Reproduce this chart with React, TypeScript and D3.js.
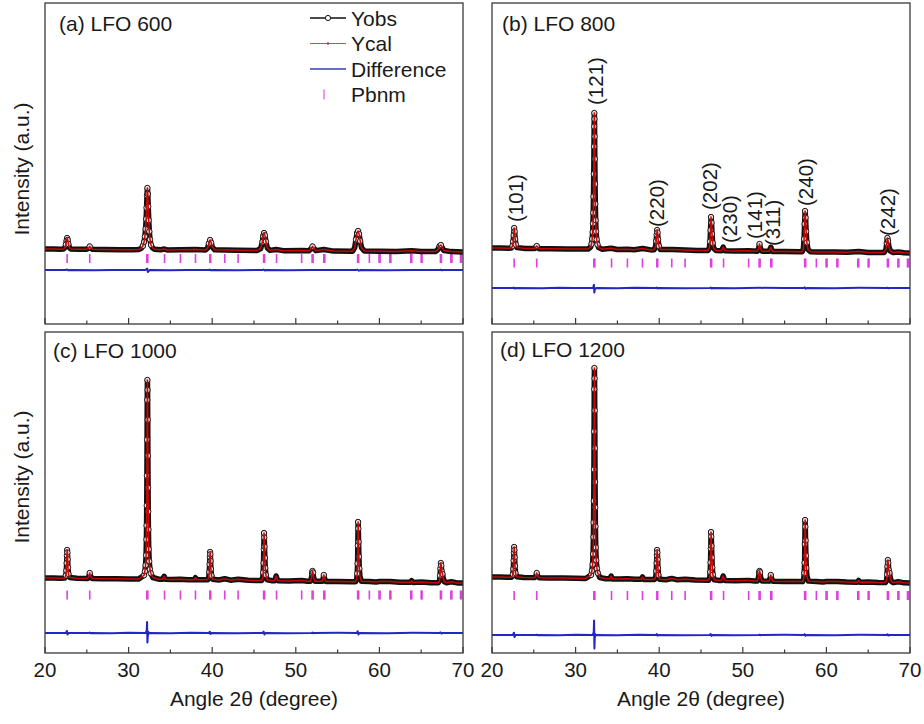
import React from "react";
import * as d3 from "d3";

type Pt = [number, number];

const angleDomain: [number, number] = [20, 70];
const countDomain: [number, number] = [-2600, 10240];
const majorTicks = [20, 30, 40, 50, 60, 70];
const minorTicks = [25, 35, 45, 55, 65];

// Pbnm reflection positions (close pairs show as thicker ticks)
const pbnmTicks = [
  22.65, 25.35, 32.18, 32.3, 34.3, 36.2, 38.0, 39.72, 39.82, 41.5, 43.1, 46.15,
  46.27, 47.7, 50.7, 51.95, 52.07, 53.35, 53.47, 57.4, 57.52, 58.8, 59.96, 60.08,
  61.25, 61.37, 63.75, 63.87, 65.0, 65.1, 67.3, 67.42, 68.55, 68.67, 69.7, 69.82,
];

// observed patterns [2theta, counts]
const obs600: Pt[] = [
  [20, 400], [21, 396], [21.8, 393], [22.2, 400], [22.4, 470], [22.5, 580], [22.58, 740],
  [22.65, 840], [22.72, 760], [22.8, 600], [22.92, 460], [23.1, 398], [24, 390], [25.0, 392],
  [25.2, 430], [25.35, 500], [25.5, 430], [25.7, 386], [27, 382], [29, 374], [30.5, 368],
  [31.2, 378], [31.5, 420], [31.7, 520], [31.85, 680], [31.95, 900], [32.03, 1200], [32.1, 1600],
  [32.15, 2050], [32.2, 2550], [32.25, 2840], [32.3, 2600], [32.35, 2100], [32.41, 1550],
  [32.48, 1100], [32.56, 780], [32.68, 560], [32.85, 450], [33.1, 390], [33.8, 366], [34.25, 400],
  [34.6, 362], [36.2, 372], [38.0, 378], [39.2, 360], [39.45, 440], [39.6, 620], [39.75, 760],
  [39.88, 650], [40.0, 480], [40.3, 368], [41.5, 360], [43.1, 352], [45.4, 342], [45.8, 420],
  [46.0, 680], [46.1, 920], [46.2, 1040], [46.3, 950], [46.42, 700], [46.6, 440], [46.9, 345],
  [47.65, 378], [48.5, 334], [50.7, 338], [51.6, 332], [51.85, 420], [52.0, 500], [52.15, 430],
  [52.4, 335], [53.35, 380], [54.5, 316], [56.8, 315], [57.05, 460], [57.2, 780], [57.33, 1040],
  [57.45, 1120], [57.57, 1000], [57.7, 720], [57.87, 450], [58.2, 318], [60, 312], [62, 302],
  [63.85, 328], [65, 296], [66.7, 298], [67.0, 380], [67.2, 520], [67.35, 560], [67.5, 470],
  [67.7, 340], [68.6, 296], [70, 280],
];

const diff600: Pt[] = [
  [20, -440], [22.5, -440], [22.65, -420], [22.8, -455], [22.95, -440], [26, -446], [28, -436],
  [30, -444], [32.0, -440], [32.12, -410], [32.22, -385], [32.3, -520], [32.42, -470], [32.6, -440],
  [35, -446], [37, -436], [39.6, -440], [39.72, -425], [39.85, -452], [40, -440], [43, -446],
  [46.05, -440], [46.15, -420], [46.3, -460], [46.45, -440], [49, -446], [52, -436], [55, -444],
  [57.25, -440], [57.35, -420], [57.55, -470], [57.7, -440], [61, -446], [64, -436], [67.2, -440],
  [67.35, -428], [67.48, -450], [67.6, -440], [70, -440],
];

const obs800: Pt[] = [
  [20, 440], [21, 436], [22.0, 432], [22.3, 438], [22.45, 520], [22.53, 700], [22.59, 950],
  [22.65, 1240], [22.71, 1100], [22.77, 800], [22.85, 580], [23.0, 455], [24, 424], [25.1, 420],
  [25.35, 520], [25.6, 414], [27, 410], [29, 402], [30.5, 396], [31.5, 400], [31.8, 480],
  [31.9, 600], [31.98, 800], [32.04, 1080], [32.08, 1420], [32.11, 1850], [32.14, 2500],
  [32.17, 3400], [32.2, 4500], [32.22, 5300], [32.24, 5840], [32.26, 5600], [32.28, 4900],
  [32.3, 4000], [32.33, 3000], [32.36, 2200], [32.4, 1550], [32.45, 1100], [32.52, 780],
  [32.62, 580], [32.75, 460], [33.2, 392], [34.25, 430], [35, 380], [36.2, 392], [37, 372],
  [38.0, 420], [39.0, 364], [39.4, 372], [39.55, 480], [39.64, 720], [39.7, 980], [39.75, 1160],
  [39.8, 1060], [39.87, 780], [39.96, 520], [40.15, 380], [41.5, 380], [43.1, 358], [44.5, 344],
  [45.85, 342], [46.0, 450], [46.08, 700], [46.14, 1150], [46.2, 1680], [46.26, 1450],
  [46.32, 1000], [46.4, 640], [46.52, 430], [46.8, 336], [47.45, 330], [47.65, 480], [47.85, 330],
  [49, 322], [50.7, 326], [51.75, 312], [51.9, 430], [52.0, 600], [52.1, 440], [52.3, 310],
  [53.15, 306], [53.35, 470], [53.55, 304], [55, 296], [56.8, 290], [57.1, 292], [57.25, 420],
  [57.33, 800], [57.39, 1400], [57.45, 1920], [57.51, 1650], [57.58, 1100], [57.66, 660],
  [57.8, 380], [58.1, 288], [59, 282], [61, 276], [62.5, 270], [63.85, 300], [65, 262],
  [66.9, 262], [67.12, 380], [67.22, 640], [67.3, 840], [67.38, 720], [67.48, 480], [67.65, 320],
  [68.0, 258], [68.6, 280], [69.3, 248], [70, 240],
];

const diff800: Pt[] = [
  [20, -1160], [22.5, -1160], [22.6, -1145], [22.72, -1180], [22.85, -1160], [26, -1166],
  [28, -1154], [30, -1164], [32.05, -1160], [32.14, -1110], [32.19, -1030], [32.24, -1340],
  [32.3, -1210], [32.4, -1170], [32.55, -1160], [35, -1166], [37, -1154], [39.6, -1160],
  [39.7, -1145], [39.82, -1178], [39.95, -1160], [43, -1166], [46.05, -1160], [46.15, -1140],
  [46.27, -1182], [46.4, -1160], [49, -1166], [52, -1154], [55, -1164], [57.3, -1160],
  [57.4, -1135], [57.52, -1186], [57.65, -1160], [61, -1166], [64, -1154], [67.2, -1160],
  [67.3, -1148], [67.42, -1172], [67.55, -1160], [70, -1160],
];

const obs1000: Pt[] = [
  [20, 400], [21, 398], [21.8, 394], [22.35, 396], [22.49, 500], [22.55, 700], [22.59, 1000],
  [22.62, 1300], [22.65, 1520], [22.68, 1420], [22.71, 1150], [22.75, 820], [22.81, 560],
  [22.95, 420], [23.8, 388], [25.1, 382], [25.25, 460], [25.35, 600], [25.45, 480], [25.65, 378],
  [26.8, 374], [28.5, 366], [30, 360], [31.2, 356], [31.85, 510], [31.95, 670], [32.03, 910],
  [32.09, 1310], [32.13, 1940], [32.15, 2500], [32.17, 3300], [32.19, 4490], [32.21, 5930],
  [32.23, 7520], [32.25, 8320], [32.27, 7920], [32.29, 6730], [32.31, 5290], [32.33, 4010],
  [32.35, 3060], [32.37, 2340], [32.41, 1550], [32.47, 1070], [32.55, 750], [32.65, 590],
  [32.9, 420], [33.6, 352], [34.1, 350], [34.25, 470], [34.4, 346], [35.2, 340], [36.2, 352],
  [37.1, 334], [37.85, 330], [38.0, 410], [38.15, 326], [39.45, 330], [39.59, 430], [39.65, 640],
  [39.69, 950], [39.72, 1250], [39.75, 1440], [39.78, 1350], [39.81, 1080], [39.85, 760],
  [39.91, 500], [40.05, 350], [40.8, 318], [41.5, 370], [42.2, 314], [43.1, 350], [44.3, 306],
  [45.9, 300], [46.04, 400], [46.1, 620], [46.14, 1000], [46.17, 1550], [46.2, 2200], [46.23, 2020],
  [46.26, 1650], [46.3, 1200], [46.35, 800], [46.42, 520], [46.58, 330], [47.2, 292], [47.45, 292],
  [47.55, 360], [47.65, 480], [47.75, 370], [47.9, 286], [49.2, 282], [50.7, 300], [51.4, 274],
  [51.75, 272], [51.88, 420], [51.95, 600], [52.0, 680], [52.06, 620], [52.13, 420], [52.3, 274],
  [53.15, 266], [53.27, 380], [53.35, 520], [53.43, 400], [53.6, 262], [55, 258], [56.6, 254],
  [57.15, 252], [57.29, 360], [57.35, 580], [57.39, 980], [57.42, 1700], [57.45, 2640],
  [57.48, 2380], [57.51, 1850], [57.55, 1250], [57.6, 780], [57.67, 470], [57.85, 270],
  [58.8, 262], [59.6, 240], [60.0, 258], [61.3, 256], [62.4, 232], [63.7, 226], [63.85, 290],
  [64.0, 222], [65.0, 240], [66.2, 214], [67.05, 212], [67.2, 300], [67.26, 500], [67.3, 780],
  [67.35, 1000], [67.4, 900], [67.46, 660], [67.55, 560], [67.62, 420], [67.75, 260], [68.0, 212],
  [68.6, 250], [69.3, 204], [70, 200],
];

const diff1000: Pt[] = [
  [20, -1800], [22.5, -1800], [22.62, -1720], [22.7, -1860], [22.82, -1800], [25.25, -1800],
  [25.35, -1785], [25.45, -1808], [25.55, -1800], [28, -1808], [30, -1794], [32.05, -1800],
  [32.17, -1680], [32.21, -1360], [32.25, -2180], [32.29, -1960], [32.35, -1750], [32.45, -1820],
  [32.6, -1800], [35, -1808], [37.5, -1794], [39.6, -1800], [39.72, -1750], [39.8, -1840],
  [39.92, -1800], [43, -1806], [46.05, -1800], [46.15, -1740], [46.25, -1860], [46.37, -1800],
  [49, -1806], [51.9, -1800], [52.0, -1782], [52.1, -1812], [52.2, -1800], [55, -1794],
  [57.3, -1800], [57.4, -1730], [57.5, -1860], [57.62, -1800], [61, -1806], [64, -1794],
  [67.2, -1800], [67.3, -1776], [67.42, -1822], [67.55, -1800], [70, -1800],
];

const obs1200: Pt[] = [
  [20, 440], [21, 436], [21.8, 432], [22.35, 430], [22.49, 540], [22.55, 760], [22.59, 1100],
  [22.62, 1420], [22.65, 1640], [22.68, 1520], [22.71, 1230], [22.75, 880], [22.81, 600],
  [22.95, 450], [23.8, 422], [25.1, 415], [25.25, 480], [25.35, 600], [25.45, 490], [25.65, 410],
  [26.8, 404], [28.5, 396], [30, 388], [31.2, 382], [31.85, 520], [31.95, 690], [32.03, 940],
  [32.09, 1360], [32.13, 2040], [32.15, 2620], [32.17, 3480], [32.19, 4740], [32.21, 6260],
  [32.23, 7950], [32.25, 8800], [32.27, 8380], [32.29, 7100], [32.31, 5590], [32.33, 4240],
  [32.35, 3220], [32.37, 2460], [32.41, 1620], [32.47, 1110], [32.55, 780], [32.65, 600],
  [32.9, 420], [33.6, 372], [34.1, 368], [34.25, 480], [34.4, 364], [35.2, 358], [36.2, 366],
  [37.1, 350], [37.85, 348], [38.0, 440], [38.15, 344], [39.45, 340], [39.59, 450], [39.65, 680],
  [39.69, 1000], [39.72, 1320], [39.75, 1520], [39.78, 1420], [39.81, 1140], [39.85, 800],
  [39.91, 520], [40.05, 350], [40.8, 332], [41.5, 380], [42.2, 326], [43.1, 350], [44.3, 316],
  [45.9, 310], [46.04, 410], [46.1, 640], [46.14, 1020], [46.17, 1580], [46.2, 2240], [46.23, 2060],
  [46.26, 1680], [46.3, 1220], [46.35, 820], [46.42, 530], [46.58, 330], [47.2, 300], [47.45, 300],
  [47.55, 370], [47.65, 480], [47.75, 375], [47.9, 295], [49.2, 290], [50.7, 305], [51.4, 282],
  [51.75, 280], [51.88, 430], [51.95, 610], [52.0, 680], [52.06, 630], [52.13, 430], [52.3, 284],
  [53.15, 275], [53.27, 390], [53.35, 520], [53.43, 410], [53.6, 270], [55, 264], [56.6, 258],
  [57.15, 255], [57.29, 370], [57.35, 600], [57.39, 1010], [57.42, 1760], [57.45, 2720],
  [57.48, 2450], [57.51, 1900], [57.55, 1290], [57.6, 800], [57.67, 480], [57.85, 275],
  [58.8, 262], [59.6, 244], [60.0, 258], [61.3, 256], [62.4, 236], [63.7, 230], [63.85, 300],
  [64.0, 228], [65.0, 240], [66.2, 218], [67.05, 215], [67.2, 310], [67.26, 540], [67.3, 860],
  [67.35, 1120], [67.4, 1000], [67.46, 720], [67.55, 600], [67.62, 450], [67.75, 270], [68.0, 215],
  [68.6, 250], [69.3, 206], [70, 200],
];

const diff1200: Pt[] = [
  [20, -1880], [22.5, -1880], [22.62, -1790], [22.7, -1960], [22.82, -1880], [25.25, -1880],
  [25.35, -1866], [25.45, -1890], [25.55, -1880], [28, -1888], [30, -1874], [32.05, -1880],
  [32.17, -1760], [32.21, -1300], [32.25, -2420], [32.29, -2020], [32.35, -1840], [32.45, -1895],
  [32.6, -1880], [35, -1888], [37.5, -1874], [39.6, -1880], [39.72, -1845], [39.8, -1905],
  [39.92, -1880], [43, -1886], [46.05, -1880], [46.15, -1840], [46.25, -1915], [46.37, -1880],
  [49, -1886], [51.9, -1880], [52.0, -1866], [52.1, -1890], [52.2, -1880], [55, -1874],
  [57.3, -1880], [57.4, -1845], [57.5, -1910], [57.62, -1880], [61, -1886], [64, -1874],
  [67.2, -1880], [67.3, -1850], [67.42, -1900], [67.55, -1880], [70, -1880],
];

// peak indices in panel (b)
const hklNames = ["(101)", "(121)", "(220)", "(202)", "(230)", "(141)", "(311)", "(240)", "(242)"];
const hklAngles = [22.87, 32.44, 39.74, 46.08, 48.47, 51.46, 53.61, 57.56, 67.37];
const hklCounts = [1480, 6160, 1280, 1960, 640, 800, 520, 2120, 920];

const legendNames = ["Yobs", "Ycal", "Difference", "Pbnm"];

const panels = [
  { key: "a", title: "(a) LFO 600", obs: obs600, diff: diff600, tickLevel: 20 },
  { key: "b", title: "(b) LFO 800", obs: obs800, diff: diff800, tickLevel: -160 },
  { key: "c", title: "(c) LFO 1000", obs: obs1000, diff: diff1000, tickLevel: -280 },
  { key: "d", title: "(d) LFO 1200", obs: obs1200, diff: diff1200, tickLevel: -300 },
];

const W = 418;
const H = 321;
const FONT = "Arial, 'Liberation Sans', Helvetica, sans-serif";
const boxes = [
  { left: 45, top: 3, titleX: 14, titleY: 27.5, yTitle: 166, xLabels: false, legend: true, hkl: false },
  { left: 492, top: 3, titleX: 10, titleY: 27.5, yTitle: null, xLabels: false, legend: false, hkl: true },
  { left: 45, top: 332, titleX: 8, titleY: 26, yTitle: 145, xLabels: true, legend: false, hkl: false },
  { left: 492, top: 332, titleX: 8, titleY: 25, yTitle: null, xLabels: true, legend: false, hkl: false },
];

function Panel({ spec, box }: any) {
  const x = d3.scaleLinear().domain(angleDomain).range([0, W]);
  const y = d3.scaleLinear().domain(countDomain).range([H, 0]);
  const line = d3.line<Pt>().x((d) => x(d[0])).y((d) => y(d[1]));
  const clipId = `clip-${spec.key}`;
  const ty = y(spec.tickLevel);

  return (
    <g transform={`translate(${box.left},${box.top})`}>
      <defs>
        <clipPath id={clipId}>
          <rect width={W} height={H} />
        </clipPath>
      </defs>
      <g clipPath={`url(#${clipId})`}>
        <path d={line(spec.diff) || ""} fill="none" stroke="#2326c4" strokeWidth={2} strokeLinejoin="round" />
        {pbnmTicks.map((t, i) => (
          <line key={i} x1={x(t)} x2={x(t)} y1={ty - 4.5} y2={ty + 4.5} stroke="#e03ee0" strokeWidth={1.6} />
        ))}
        <path d={line(spec.obs) || ""} fill="none" stroke="#111" strokeWidth={5.5} strokeLinejoin="round" />
        {spec.obs
          .filter((d: Pt) => d[1] >= 500)
          .map((d: Pt, i: number) => (
            <circle key={i} cx={x(d[0])} cy={y(d[1])} r={2.7} fill="#f2dcdc" stroke="#1a1a1a" strokeWidth={1} />
          ))}
        <path d={line(spec.obs) || ""} fill="none" stroke="#c80808" strokeWidth={1.5} strokeLinejoin="round" />
      </g>

      <rect width={W} height={H} fill="none" stroke="#3a3a3a" strokeWidth={1.3} />
      {majorTicks.map((t) => (
        <line key={"M" + t} x1={x(t)} x2={x(t)} y1={H} y2={H - 6} stroke="#3a3a3a" strokeWidth={1.2} />
      ))}
      {minorTicks.map((t) => (
        <line key={"m" + t} x1={x(t)} x2={x(t)} y1={H} y2={H - 3.5} stroke="#3a3a3a" strokeWidth={1.2} />
      ))}

      <text x={box.titleX} y={box.titleY} fontFamily={FONT} fontSize={21} fill="#1a1a1a">
        {spec.title}
      </text>

      {box.xLabels && (
        <g fontFamily={FONT} fill="#1a1a1a">
          {majorTicks.map((t) => (
            <text key={t} x={x(t)} y={H + 24} fontSize={20.5} textAnchor="middle">
              {t}
            </text>
          ))}
          <text x={W / 2} y={H + 53} fontSize={21} textAnchor="middle">
            Angle 2θ (degree)
          </text>
        </g>
      )}

      {box.yTitle !== null && (
        <text
          transform={`translate(${22 - box.left},${box.yTitle}) rotate(-90)`}
          dy="0.35em"
          textAnchor="middle"
          fontFamily={FONT}
          fontSize={21}
          fill="#1a1a1a"
        >
          Intensity (a.u.)
        </text>
      )}

      {box.hkl &&
        hklNames.map((name, i) => (
          <text
            key={name}
            transform={`translate(${x(hklAngles[i])},${y(hklCounts[i])}) rotate(-90)`}
            dy="0.35em"
            fontFamily={FONT}
            fontSize={20.5}
            fill="#1a1a1a"
          >
            {name}
          </text>
        ))}

      {box.legend && (
        <g fontFamily={FONT} fontSize={21} fill="#1a1a1a">
          {legendNames.map((name, i) => {
            const cy = 15 + i * 25.5;
            return (
              <g key={name}>
                {i === 0 && (
                  <g>
                    <line x1={265} x2={301} y1={cy} y2={cy} stroke="#111" strokeWidth={1.3} />
                    <circle cx={283} cy={cy} r={2.6} fill="#fff" stroke="#111" strokeWidth={1} />
                  </g>
                )}
                {i === 1 && (
                  <g>
                    <line x1={265} x2={301} y1={cy} y2={cy} stroke="#d24a4a" strokeWidth={1} />
                    <circle cx={283} cy={cy} r={1.2} fill="#b33" />
                  </g>
                )}
                {i === 2 && <line x1={265} x2={301} y1={cy} y2={cy} stroke="#3a3ab8" strokeWidth={1.6} />}
                {i === 3 && <line x1={279} x2={279} y1={cy - 5} y2={cy + 5} stroke="#e070e0" strokeWidth={1.4} />}
                <text x={306} y={cy + 7.5}>
                  {name}
                </text>
              </g>
            );
          })}
        </g>
      )}
    </g>
  );
}

export default function App() {
  return (
    <svg
      width={924}
      height={724}
      style={{ position: "absolute", left: 0, top: 0, background: "#fff" }}
    >
      <rect width={924} height={724} fill="#fff" />
      {panels.map((p, i) => (
        <Panel key={p.key} spec={p} box={boxes[i]} />
      ))}
    </svg>
  );
}
